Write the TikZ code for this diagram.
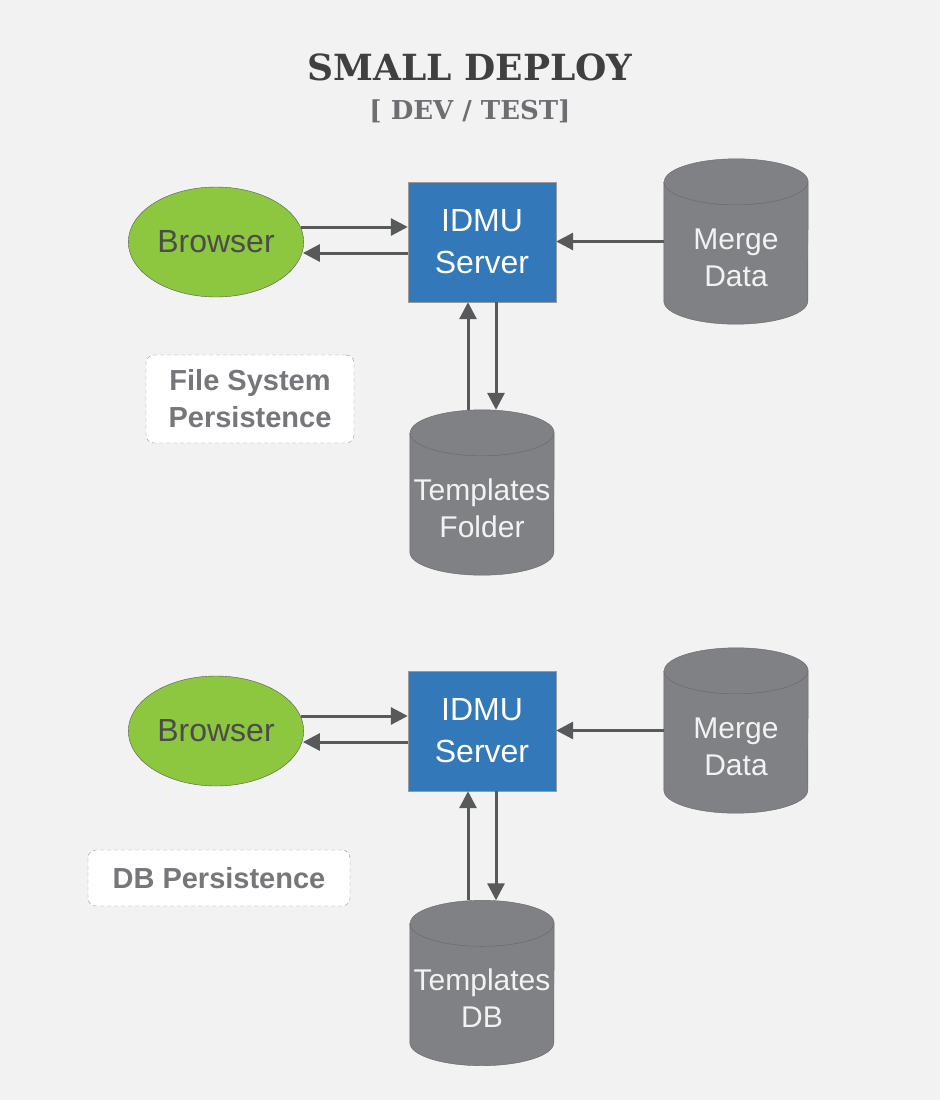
\documentclass[tikz,border=0pt]{standalone}
\usepackage{fontspec}
\setmainfont{Liberation Sans}
\newfontfamily\slabfont{DejaVu Serif}
\usepackage{xcolor}
\usepackage{tikz}
\usetikzlibrary{arrows.meta}
\usetikzlibrary{shapes.geometric}
\definecolor{fond}{HTML}{F1F2F1}
\definecolor{titre}{HTML}{404041}
\definecolor{soustitre}{HTML}{6D6E71}
\definecolor{vert}{HTML}{8DC63F}
\definecolor{bleu}{HTML}{3378B8}
\definecolor{gris}{HTML}{808185}
\definecolor{fleche}{HTML}{58595B}
\definecolor{note}{HTML}{76777B}
\tikzset{
    navigateur/.style = {ellipse, draw=black!65, fill=vert, minimum width=173, minimum height=110,
        text=black!70, font=\fontsize{32}{36}\selectfont},
    serveur/.style = {rectangle, draw=black!40, fill=bleu, minimum width=148, minimum height=120,
        text=white, align=center, font=\fontsize{32}{42}\selectfont},
    base/.style = {rectangle, minimum width=144, minimum height=165, inner sep=0},
    cuve/.style = {draw=black!60, fill=gris},
    basetexte/.style = {text=white!95!black, align=center, inner sep=0, font=\fontsize{30}{37}\selectfont},
    remarque/.style = {rectangle, rounded corners=8, draw=black!40, dash pattern=on 4pt off 3pt, fill=white,
        text=note, align=center, font=\bfseries\fontsize{29}{37}\selectfont},
    flux/.style = {->, draw=fleche, line width=3},
    >={Triangle[length=17pt, width=17pt]}
}

\begin{document}
\begin{tikzpicture}[x=1pt, y=-1pt]
                \fill[fond] (0,0) rectangle (940,1100);
                \useasboundingbox (0,0) rectangle (940,1100);
                \node (titre) [anchor=base, text=titre, font=\slabfont\bfseries\fontsize{36}{40}\selectfont] at (470,80) {SMALL DEPLOY};
                \node (soustitre) [anchor=base, text=soustitre, font=\slabfont\bfseries\fontsize{26}{28}\selectfont] at (470,119) {[ DEV / TEST]};
                % systeme de fichiers
                \node (nav1) [navigateur] at (216,242) {Browser};
                \node (serv1) [serveur] at (482,242) {IDMU\\Server};
                \node (fusion1) [base] at (736,241.5) {};
                \node (modeles1) [base] at (482,492.5) {};
                \node (fs) [remarque, minimum width=208, minimum height=88] at (250,399) {File System\\Persistence};
                % base de donnees
                \node (nav2) [navigateur] at (216,731) {Browser};
                \node (serv2) [serveur] at (482,731) {IDMU\\Server};
                \node (fusion2) [base] at (736,730.5) {};
                \node (modeles2) [base] at (482,983) {};
                \node (db) [remarque, minimum width=262, minimum height=56] at (219,878) {DB Persistence};
                % cylindres
                \foreach \c in {fusion1, modeles1, fusion2, modeles2} {
                    \filldraw[cuve] ([yshift=-23pt]\c.north west) -- ([yshift=23pt]\c.south west)
                        arc[start angle=180, end angle=360, x radius=72pt, y radius=23pt]
                        -- ([yshift=-23pt]\c.north east)
                        arc[start angle=0, end angle=180, x radius=72pt, y radius=23pt] -- cycle;
                    \draw[cuve, fill=none] ([yshift=-23pt]\c.north west)
                        arc[start angle=180, end angle=360, x radius=72pt, y radius=23pt];
                }
                \node (fusiontxt1) [basetexte] at (736,258) {Merge\\Data};
                \node (modelestxt1) [basetexte] at (482,508) {Templates\\Folder};
                \node (fusiontxt2) [basetexte] at (736,747) {Merge\\Data};
                \node (modelestxt2) [basetexte] at (482,998) {Templates\\DB};
                % fleches
                \draw[flux] ([yshift=15pt, xshift=-3pt]nav1.east) -- ([yshift=15pt]serv1.west);
                \draw[flux] ([yshift=-11pt]serv1.west) -- ([yshift=-11pt, xshift=-1pt]nav1.east);
                \draw[flux] (fusion1.west) -- (fusion1.west -| serv1.east);
                \draw[flux] ([xshift=-14pt]modeles1.north) -- ([xshift=-14pt]serv1.south);
                \draw[flux] ([xshift=14pt]serv1.south) -- ([xshift=14pt]modeles1.north);
                \draw[flux] ([yshift=15pt, xshift=-3pt]nav2.east) -- ([yshift=15pt]serv2.west);
                \draw[flux] ([yshift=-11pt]serv2.west) -- ([yshift=-11pt, xshift=-1pt]nav2.east);
                \draw[flux] (fusion2.west) -- (fusion2.west -| serv2.east);
                \draw[flux] ([xshift=-14pt]modeles2.north) -- ([xshift=-14pt]serv2.south);
                \draw[flux] ([xshift=14pt]serv2.south) -- ([xshift=14pt]modeles2.north);
            \end{tikzpicture}
\end{document}
